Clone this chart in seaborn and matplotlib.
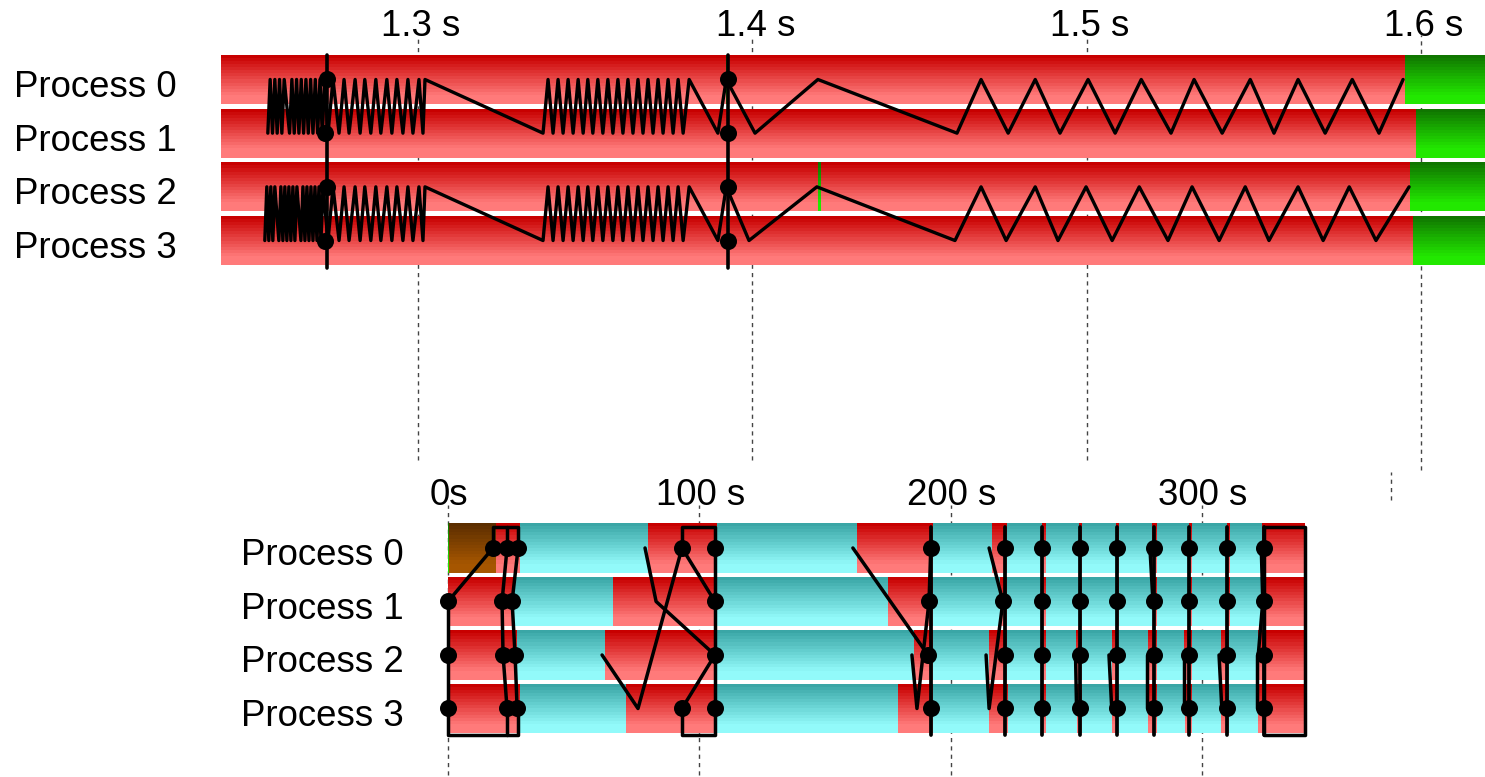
import numpy as np
import pandas as pd
import matplotlib
matplotlib.use("Agg")
import matplotlib.pyplot as plt
import matplotlib.transforms as mtransforms
import seaborn as sns

# ---------------- data ----------------
processes = ["Process 0", "Process 1", "Process 2", "Process 3"]

# ---- top view (times in milliseconds) ----
top_ticks = [1300, 1400, 1500, 1600]
top_tick_labels = ["1.3 s", "1.4 s", "1.5 s", "1.6 s"]
top_window = [1241.1, 1619.1]

top_bounds = [
    [1240, 1272.6, 1273.0, 1392.2, 1393.1, 1595.2, 1625],
    [1240, 1598.5, 1625],
    [1240, 1419.6, 1420.5, 1596.7, 1625],
    [1240, 1597.6, 1625],
]
top_states = ["RGRGRG", "RG", "RGRG", "RG"]

# ping-pong message chains (vertex times, rows alternate inside the pair)
top_chain_upper = [
    1255.1, 1255.8, 1256.5, 1257.2, 1257.9, 1258.6, 1259.3, 1260.0, 1261.6, 1262.3,
    1263.0, 1263.7, 1264.4, 1265.1, 1265.8, 1266.5, 1267.2, 1267.9, 1268.6, 1269.3,
    1270.0, 1270.7, 1271.4, 1272.1,
    1273.1, 1274.6, 1276.4, 1277.9, 1279.4, 1281.2, 1282.7, 1284.1, 1285.9, 1287.4,
    1288.9, 1290.7, 1292.2, 1293.7, 1295.5, 1297.0, 1298.5, 1300.3, 1301.5, 1302.1,
    1337.4, 1338.9, 1340.4, 1341.9, 1343.4, 1344.9, 1346.4, 1347.9, 1349.4, 1350.8,
    1352.3, 1353.8, 1355.3, 1356.8, 1358.3, 1359.8, 1361.3, 1362.8, 1364.3, 1365.8,
    1367.3, 1368.8, 1370.3, 1371.8, 1373.3, 1374.8, 1376.3, 1377.8, 1379.3, 1381.1,
    1389.7, 1392.2, 1400.8, 1419.6, 1461.2, 1468.4, 1476.5, 1484.6, 1492.0, 1500.4,
    1508.5, 1516.3, 1525.2, 1532.1, 1540.5, 1548.9, 1556.0, 1563.2, 1571.3, 1579.4,
    1587.4, 1594.6,
]
top_chain_lower = [
    1254.2, 1254.8, 1255.4, 1256.0, 1256.6, 1257.2, 1258.4, 1259.0, 1259.6, 1260.2,
    1260.8, 1261.4, 1262.0, 1262.6, 1263.2, 1263.8, 1265.0, 1265.6, 1266.2, 1266.8,
    1267.4, 1268.0, 1268.6, 1269.2, 1269.8, 1270.4, 1271.0, 1271.6,
    1273.1, 1274.6, 1276.4, 1277.9, 1279.4, 1281.2, 1282.7, 1284.1, 1285.9, 1287.4,
    1288.9, 1290.7, 1292.2, 1293.7, 1295.5, 1297.0, 1298.5, 1300.3, 1301.5, 1302.1,
    1337.4, 1338.9, 1340.4, 1341.9, 1343.4, 1344.9, 1346.4, 1347.9, 1349.4, 1350.8,
    1352.3, 1353.8, 1355.3, 1356.8, 1358.3, 1359.8, 1361.3, 1362.8, 1364.3, 1365.8,
    1367.3, 1368.8, 1370.3, 1371.8, 1373.3, 1374.8, 1376.3, 1377.8, 1379.3, 1381.1,
    1389.7, 1392.2, 1399.0, 1419.3, 1460.6, 1468.4, 1475.9, 1484.6, 1491.4, 1499.8,
    1507.6, 1515.7, 1524.3, 1531.5, 1539.6, 1547.4, 1554.5, 1563.2, 1570.7, 1578.5,
    1586.5, 1596.4,
]
top_chain_rows = [(1, 0), (3, 2)]
top_collectives = [1272.8, 1392.6]
top_dot_times = [1272.8, 1272.2, 1272.8, 1272.2, 1392.7, 1392.7, 1392.7, 1392.7]
top_dot_rows = [0, 1, 2, 3, 0, 1, 2, 3]
top_grid_extra = [1591.0]

# ---- bottom view (times in seconds) ----
bot_ticks = [0, 100, 200, 300]
bot_tick_labels = ["0s", "100 s", "200 s", "300 s"]
bot_window = [0, 341.0]

bot_bounds = [
    [0, 0.5, 19.1, 28.6, 79.6, 107.0, 162.7, 193.0, 216.5, 222.4, 236.3, 237.9,
     251.1, 252.3, 265.8, 267.0, 280.1, 282.1, 294.8, 296.0, 310.0, 311.1, 323.9, 341.5],
    [0, 26.3, 65.7, 107.0, 175.1, 193.0, 219.6, 222.4, 236.5, 237.9, 251.1, 252.3,
     265.8, 267.0, 280.5, 282.1, 294.8, 296.0, 310.0, 311.1, 324.3, 341.5],
    [0, 27.5, 62.5, 107.0, 185.4, 193.0, 215.3, 222.4, 236.3, 237.9, 249.9, 252.3,
     264.2, 266.6, 278.5, 282.1, 292.8, 296.0, 307.6, 310.8, 322.3, 341.5],
    [0, 28.6, 70.8, 107.0, 179.0, 193.0, 215.3, 222.8, 236.3, 237.9, 250.3, 252.3,
     264.2, 266.6, 278.5, 282.1, 293.2, 296.0, 307.6, 310.8, 322.3, 341.5],
]
bot_states = [
    "GBRCRCRCRCRCRCRCRCRCRCR",
    "RCRCRCRCRCRCRCRCRCRCR",
    "RCRCRCRCRCRCRCRCRCRCR",
    "RCRCRCRCRCRCRCRCRCRCR",
]

# links: (times, rows); fractional rows are the bracket ends above / below the rows
bot_links = [
    ([17.9, 17.9, 27.9, 27.9], [0, -0.39, -0.39, 0]),
    ([23.5, 23.5], [-0.39, 0]),
    ([0, 0, 27.9, 27.9], [1, 3.5, 3.5, 3]),
    ([23.5, 23.5], [3.5, 3]),
    ([0, 17.9], [1, 0]),
    ([23.5, 21.5, 21.9, 23.5], [0, 1, 2, 3]),
    ([27.9, 25.5, 26.7, 27.5], [0, 1, 2, 3]),
    ([93.1, 93.1, 106.2, 106.2, 93.1, 93.1], [0, -0.39, -0.39, 3.5, 3.5, 3]),
    ([93.1, 106.2], [0, 1]),
    ([106.2, 93.1], [2, 3]),
    ([78.4, 82.8, 106.2], [0, 1, 2]),
    ([61.3, 75.6, 93.1], [2, 3, 0]),
    ([161.1, 191.0], [0, 2]),
    ([184.6, 186.6, 191.4, 192.1], [2, 3, 1, 0]),
    ([215.3, 220.8], [0, 1]),
    ([214.1, 215.3, 220.8], [2, 3, 1]),
    ([249.7, 250.1, 251.5], [2, 3, 3]),
    ([263.0, 264.1, 266.2], [2, 3, 3]),
    ([278.0, 278.0, 280.9], [2, 3, 3]),
    ([279.3, 280.5], [0, 1]),
    ([292.8, 292.8, 294.8], [2, 3, 3]),
    ([306.8, 307.9, 310.0], [2, 3, 3]),
    ([321.8, 321.8, 324.7], [2, 3, 3]),
    ([323.6, 324.2, 322.4], [0, 1, 2]),
    ([324.7, 341.0, 341.0, 324.7, 324.7], [-0.39, -0.39, 3.5, 3.5, -0.39]),
]
bot_collectives = [192.2, 221.6, 236.5, 251.5, 266.2, 280.9, 294.8, 310.0, 324.7]
bot_dot_times = [17.9, 23.5, 27.9, 0, 21.5, 25.5, 0, 21.9, 26.7, 0, 23.5, 27.5,
                 93.1, 106.2, 106.2, 106.2, 93.1, 106.2,
                 192.1, 191.4, 191.0, 192.1,
                 221.6, 220.8, 221.6, 221.6]
bot_dot_rows = [0, 0, 0, 1, 1, 1, 2, 2, 2, 3, 3, 3,
                0, 0, 1, 2, 3, 3,
                0, 1, 2, 3,
                0, 1, 2, 3]
bot_collective_dot_times = [236.5, 251.5, 266.2, 280.9, 294.8, 310.0, 324.7]

# ---------------- style ----------------
sns.set_theme(style="white")
plt.rcParams['font.family'] = ['Liberation Sans', 'DejaVu Sans']

palette = {
    'R': ((200, 0, 0), (255, 122, 122)),
    'C': ((58, 166, 166), (146, 250, 250)),
    'G': ((16, 118, 0), (34, 232, 0)),
    'B': ((92, 46, 0), (166, 86, 0)),
}
N_BANDS = 16
FS = 26.4
DOT = 150


def band_colors(kind):
    top = np.array(palette[kind][0]) / 255.0
    bot = np.array(palette[kind][1]) / 255.0
    fr = np.clip(np.linspace(0, 1, N_BANDS) / 0.85, 0, 1)
    return [tuple(top + (bot - top) * f) for f in fr]


def draw_rows(ax, bounds, states, half):
    h = 2 * half / N_BANDS
    for row, (b, s) in enumerate(zip(bounds, states)):
        for kind in sorted(set(s)):
            idx = [i for i, c in enumerate(s) if c == kind]
            lefts = [b[i] for i in idx]
            widths = [b[i + 1] - b[i] for i in idx]
            for k, col in enumerate(band_colors(kind)):
                hh = h * 1.1 if k < N_BANDS - 1 else h
                ax.barh([row - half + k * h] * len(idx), widths, left=lefts, height=hh,
                        align='edge', color=col, linewidth=0, zorder=1)


def style_axis(ax, ticks, labels, window, ylim, xpad, xshift):
    ax.set_xlim(*window)
    ax.set_ylim(*ylim)
    ax.set_xticks(ticks)
    ax.set_xticklabels(labels)
    ax.xaxis.tick_top()
    ax.set_yticks(range(4))
    ax.set_yticklabels(processes)
    ax.tick_params(axis='x', length=0, pad=xpad, labelsize=FS, colors='black')
    ax.tick_params(axis='y', length=0, pad=32, labelsize=FS, colors='black')
    yshift = mtransforms.ScaledTranslation(0, -4 / 100, fig.dpi_scale_trans)
    for lab in ax.get_yticklabels():
        lab.set_transform(lab.get_transform() + yshift)
    xs = mtransforms.ScaledTranslation(xshift / 100, 0, fig.dpi_scale_trans)
    for lab in ax.get_xticklabels():
        lab.set_transform(lab.get_transform() + xs)
    ax.set_xlabel("")
    ax.set_ylabel("")
    for sp in ax.spines.values():
        sp.set_visible(False)
    ax.grid(False)


W, H = 1485, 777
fig = plt.figure(figsize=(W / 100, H / 100), dpi=100, facecolor='white')

# ---------- top panel ----------
ax1 = fig.add_axes([221 / W, 1 - 265 / H, (W - 221) / W, 210 / H])
ax1.set_facecolor('white')
half_top = 0.4565
draw_rows(ax1, top_bounds, top_states, half_top)

grid_kw = dict(colors='#444444', linestyles=(0, (3, 3)), linewidth=1.0, clip_on=False, zorder=0)
tr1 = ax1.get_xaxis_transform()
for t in top_ticks:
    ax1.vlines(t, -0.976 if t == top_ticks[-1] else -0.929, 1.095, transform=tr1, **grid_kw)
for t in top_grid_extra:
    ax1.vlines(t, -1.119, -0.986, transform=tr1, **grid_kw)

for chain, (ra, rb) in zip([top_chain_upper, top_chain_lower], top_chain_rows):
    rows = [ra if i % 2 == 0 else rb for i in range(len(chain))]
    sns.lineplot(x=chain, y=rows, sort=False, estimator=None, color='black',
                 linewidth=2.4, ax=ax1, zorder=3)
for t in top_collectives:
    sns.lineplot(x=[t, t], y=[-0.45, 3.51], sort=False, estimator=None, color='black',
                 linewidth=2.6, ax=ax1, zorder=3, clip_on=False)
sns.scatterplot(x=top_dot_times, y=top_dot_rows, color='black', s=DOT, linewidth=0,
                ax=ax1, zorder=4, clip_on=False)
style_axis(ax1, top_ticks, top_tick_labels, top_window, (3.456, -0.456), 8.0, 3)

# ---------- bottom panel ----------
ax2 = fig.add_axes([448 / W, 1 - 733 / H, 857 / W, 210 / H])
ax2.set_facecolor('white')
half_bot = 0.467
draw_rows(ax2, bot_bounds, bot_states, half_bot)

tr2 = ax2.get_xaxis_transform()
for t in bot_ticks:
    ax2.vlines(t, -0.2, 1.086, transform=tr2, **grid_kw)

for times, rows in bot_links:
    sns.lineplot(x=times, y=rows, sort=False, estimator=None, color='black',
                 linewidth=2.5, ax=ax2, zorder=3, clip_on=False)
for t in bot_collectives:
    sns.lineplot(x=[t, t], y=[-0.39, 3.5], sort=False, estimator=None, color='black',
                 linewidth=2.7, ax=ax2, zorder=3, clip_on=False)
all_dot_t = bot_dot_times + [t for t in bot_collective_dot_times for _ in range(4)]
all_dot_r = bot_dot_rows + [r for _ in bot_collective_dot_times for r in range(4)]
sns.scatterplot(x=all_dot_t, y=all_dot_r, color='black', s=DOT, linewidth=0,
                ax=ax2, zorder=4, clip_on=False)
style_axis(ax2, bot_ticks, bot_tick_labels, bot_window, (3.458, -0.467), 7.3, 1)

fig.savefig("out.png", dpi=100, facecolor='white')
